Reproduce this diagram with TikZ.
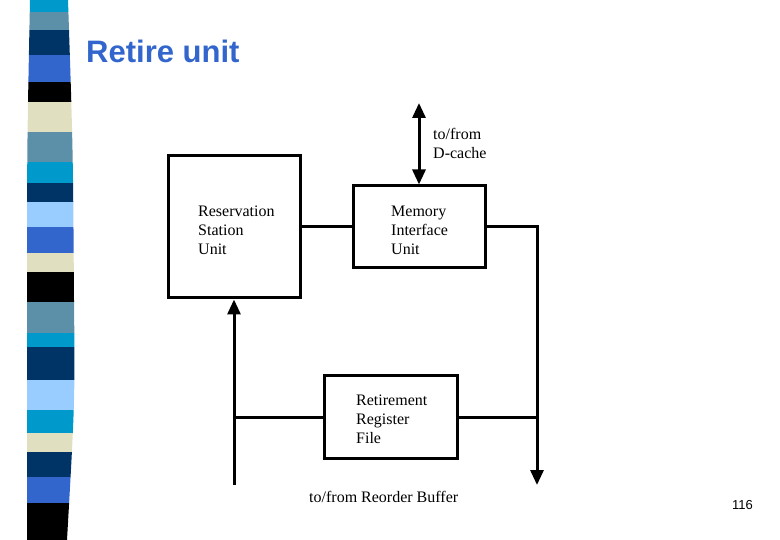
\documentclass[tikz,border=0pt]{standalone}
\usepackage{fontspec}
\setmainfont{Liberation Serif}
\newfontfamily\arialfont{Liberation Sans}
\usetikzlibrary{arrows, arrows.meta}

\definecolor{stcyan}{RGB}{0,153,204}
\definecolor{ststeel}{RGB}{92,143,168}
\definecolor{stnavy}{RGB}{0,51,102}
\definecolor{stroyal}{RGB}{51,102,204}
\definecolor{stcream}{RGB}{224,224,192}
\definecolor{stlight}{RGB}{153,204,255}
\definecolor{titleblue}{RGB}{51,102,204}

\tikzset{
  unit/.style={draw, line width=3pt, minimum width=132pt, inner sep=0pt},
  unittext/.style={anchor=north west, inner sep=0pt, align=left,
    font=\fontsize{16}{19}\selectfont},
  wire/.style={line width=3pt},
  arr/.style={-{Triangle[width=13pt,length=15pt]}},
  biarr/.style={{Triangle[width=13pt,length=15pt]}-{Triangle[width=13pt,length=15pt]}}
}

\begin{document}
\begin{tikzpicture}[x=1pt, y=-1pt]
        \useasboundingbox (0,0) rectangle (780,540);
        \begin{scope}
          \clip (30,0) .. controls (27,150) .. (27,300) -- (27,540) -- (67,540)
                .. controls (75,400) .. (74,300) .. controls (73,150) .. (68,0) -- cycle;
          \fill[stcyan] (0,0) rectangle (80,12);
          \fill[ststeel] (0,12) rectangle (80,30);
          \fill[stnavy] (0,30) rectangle (80,55);
          \fill[stroyal] (0,55) rectangle (80,82);
          \fill[black] (0,82) rectangle (80,102);
          \fill[stcream] (0,102) rectangle (80,132);
          \fill[ststeel] (0,132) rectangle (80,162);
          \fill[stcyan] (0,162) rectangle (80,183);
          \fill[stnavy] (0,183) rectangle (80,202);
          \fill[stlight] (0,202) rectangle (80,227);
          \fill[stroyal] (0,227) rectangle (80,253);
          \fill[stcream] (0,253) rectangle (80,272);
          \fill[black] (0,272) rectangle (80,302);
          \fill[ststeel] (0,302) rectangle (80,333);
          \fill[stcyan] (0,333) rectangle (80,347);
          \fill[stnavy] (0,347) rectangle (80,380);
          \fill[stlight] (0,380) rectangle (80,410);
          \fill[stcyan] (0,410) rectangle (80,433);
          \fill[stcream] (0,433) rectangle (80,452);
          \fill[stnavy] (0,452) rectangle (80,477);
          \fill[stroyal] (0,477) rectangle (80,503);
          \fill[black] (0,503) rectangle (80,540);
        \end{scope}

        \node[anchor=base west, inner sep=0pt, text=titleblue, font=\arialfont\bfseries\fontsize{31}{31}\selectfont] (title) at (86,63) {Retire unit};

        \node[unit, minimum height=142pt] (rsu) at (234.5,227) {};
        \node[unit, minimum height=82pt] (miu) at (419,227) {};
        \node[unit, minimum height=82pt, minimum width=133pt] (rrf) at (390.5,417) {};

        \node[unittext] (rsutext) at (198,206) {Reservation\\Station\\Unit};
        \node[unittext] (miutext) at (391,206) {Memory\\Interface\\Unit};
        \node[unittext] (rrftext) at (356,395) {Retirement\\Register\\File};
        \node[unittext] (dcache) at (433,128) {to/from\\D-cache};
        \node[unittext] (rob) at (309,491) {to/from Reorder Buffer};

        \coordinate (dctop) at (419,103);
        \coordinate (robin) at (234,485);
        \coordinate (robout) at (537,485);

        \draw[wire, biarr] (dctop) -- (dctop |- miu.north);
        \draw[wire] (rsu.east) -- (miu.west);
        \draw[wire, arr] (miu.east) -| (robout);
        \draw[wire, arr] (robin) -- (robin |- rsu.south);
        \draw[wire] (rrf.west) -- (robin |- rrf.west);
        \draw[wire] (rrf.east) -- (robout |- rrf.east);

        \node[anchor=base west, inner sep=0pt, font=\arialfont\fontsize{13}{13}\selectfont] (pagenum) at (732,509) {116};
      \end{tikzpicture}
\end{document}
